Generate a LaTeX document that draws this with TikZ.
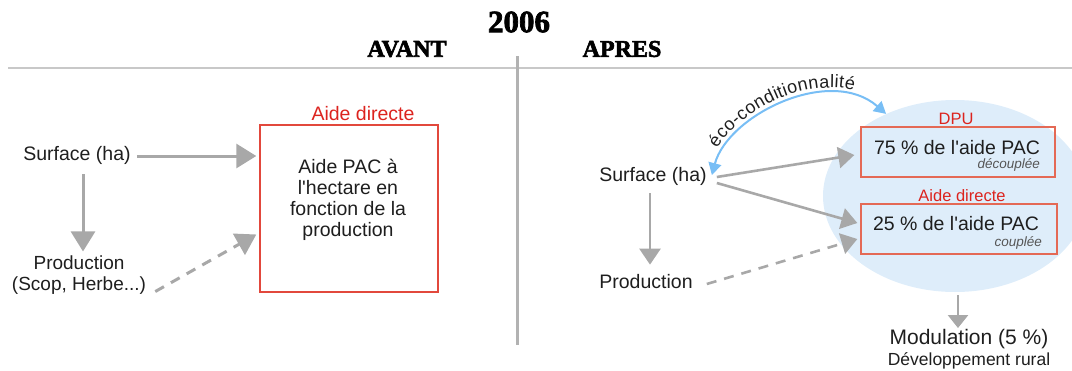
\documentclass[tikz,border=0pt]{standalone}
\usepackage{fontspec}
\setmainfont{Liberation Sans}
\newfontfamily\headfont[BoldFeatures={FakeBold=2.5}]{Liberation Serif}
\usetikzlibrary{arrows.meta,shapes.geometric,calc,decorations.text}
\definecolor{textc}{RGB}{30,30,30}
\definecolor{arrowgray}{RGB}{168,168,168}
\definecolor{divgray}{RGB}{178,178,178}
\definecolor{linegray}{RGB}{200,200,200}
\definecolor{labred}{RGB}{220,35,30}
\definecolor{boxred}{RGB}{226,72,60}
\definecolor{boxred2}{RGB}{228,105,85}
\definecolor{ecoblue}{RGB}{120,190,245}
\definecolor{ellblue}{RGB}{222,237,250}
\newcommand{\apos}{\textquotesingle}
\begin{document}
\begin{tikzpicture}[x=1pt,y=-1pt,
  txt/.style={inner sep=0pt, text=textc, font=\fontsize{19.5}{21}\selectfont},
  head/.style={inner sep=0pt, text=black, font=\headfont\bfseries\fontsize{#1}{#1}\selectfont},
  redlab/.style={inner sep=0pt, text=labred, font=\fontsize{#1}{#1}\selectfont},
  small/.style={inner sep=0pt, text=textc!75, font=\itshape\fontsize{13.5}{13.5}\selectfont},
  garrowL/.style={draw=arrowgray, line width=3pt, -{Triangle[length=20pt,width=24pt]}},
  garrowR/.style={draw=arrowgray, line width=2.6pt, -{Triangle[length=16pt,width=21pt]}},
  dasharrowL/.style={garrowL, dash pattern=on 10pt off 8pt},
  dasharrowR/.style={garrowR, dash pattern=on 10pt off 8pt},
]
\useasboundingbox (0,0) rectangle (1072,370);
\clip (0,0) rectangle (1072,370);

% background ellipse
\node[ellipse, inner sep=0pt, minimum width=264pt, minimum height=192pt, fill=ellblue] (ell) at (955,196) {};

% headings and dividers
\node[head=31] (year) at (519,22) {2006};
\node[head=24] (avant) at (407,49) {AVANT};
\node[head=24] (apres) at (622,49) {APRES};
\coordinate (hl) at (8,68);
\coordinate (hr) at (1072,68);
\draw[linegray, line width=1.2pt] (hl) -- (hr);
\coordinate (vt) at (517,56);
\coordinate (vb) at (517,345);
\draw[divgray, line width=3pt] (vt) -- (vb);

% ---------- left (AVANT) ----------
\node[txt] (surfL) at (77,155) {Surface (ha)};
\node[txt, align=center, font=\fontsize{19}{21}\selectfont] (prodL) at (79,275) {Production\\(Scop, Herbe...)};
\node[draw=boxred, line width=1.4pt, minimum width=178pt, minimum height=167pt, inner sep=0pt] (boxL) at (349,208.5) {};
\node[txt, align=center] (boxLtxt) at (348,200) {Aide PAC à\\l\apos hectare en\\fonction de la\\production};
\node[redlab=19.5] (adL) at (363,114) {Aide directe};

\draw[garrowL] ($(surfL.east)+(6,1)$) -- ($(boxL.west|-surfL.east)+(-3,1)$);
\draw[garrowL] ($(surfL.south)+(6,10)$) -- ($(prodL.north)+(4,-4)$);
\draw[dasharrowL] ($(prodL.south east)+(9,-3)$) -- ($(boxL.west)+(-3,26)$);

% ---------- right (APRES) ----------
\node[txt] (surfR) at (653,176) {Surface (ha)};
\node[txt] (prodR) at (646,282) {Production};

\node[draw=boxred2, line width=1.3pt, minimum width=194pt, minimum height=50pt, inner sep=0pt] (dpu) at (958,152) {};
\node[txt] (dputxt) at (957,148) {75 \% de l\apos aide PAC};
\node[small, anchor=east] (dpusm) at (1040,165) {découplée};
\node[redlab=16.5] (dpulab) at (956,119) {DPU};

\node[draw=boxred2, line width=1.3pt, minimum width=196pt, minimum height=50pt, inner sep=0pt] (adR) at (959,229) {};
\node[txt] (adRtxt) at (956,224) {25 \% de l\apos aide PAC};
\node[small, anchor=east] (adRsm) at (1042,243) {couplée};
\node[redlab=16.5] (adRlab) at (962,196) {Aide directe};

\node[inner sep=0pt, text=textc, font=\fontsize{21}{21}\selectfont] (modul) at (969,339) {Modulation (5 \%)};
\node[inner sep=0pt, text=textc, font=\fontsize{17.5}{17.5}\selectfont] (dev) at (969,361) {Développement rural};

\draw[garrowR] ($(surfR.east)+(10,1)$) -- ($(dpu.west)+(-6,3)$);
\draw[garrowR] ($(surfR.east)+(10,7)$) -- ($(adR.west)+(-3,-6)$);
\draw[garrowR] ($(surfR.south)+(-3,8)$) -- ($(prodR.north)+(4,-10)$);
\draw[dasharrowR] ($(prodR.east)+(14,2)$) -- ($(adR.west)+(-3,10)$);
\draw[draw=arrowgray, line width=2.6pt, -{Triangle[length=13pt,width=20pt]}] ($(ell.south)+(3,3)$) -- ($(modul.north)+(-11,-1)$);

% eco-conditionnalite
\coordinate (ecoA) at ($(surfR.east)+(5,-1)$);
\coordinate (ecoB) at (ell.130);
\draw[ecoblue, line width=2pt, {Triangle[length=12pt,width=13pt]}-{Triangle[length=12pt,width=13pt]}]
  (ecoA) .. controls (728,115) and (830,65) .. (ecoB);
\path[decorate, decoration={text along path, text align={left indent=25pt}, raise=6.5pt,
  text={|\fontsize{18}{18}\selectfont\color{textc}|éco-conditionnalité}}]
  (ecoA) .. controls (728,115) and (830,65) .. (ecoB);
\end{tikzpicture}
\end{document}
